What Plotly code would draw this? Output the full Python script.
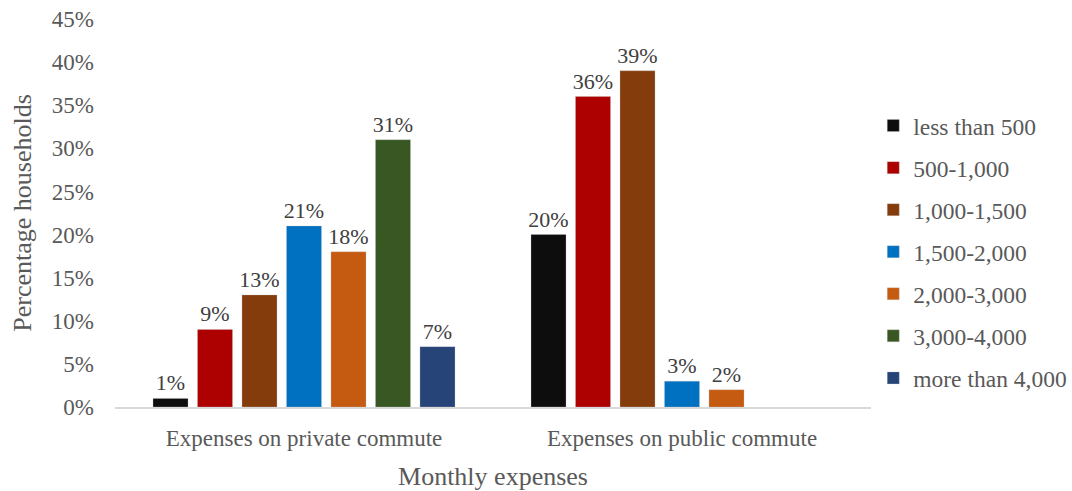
import plotly.graph_objects as go

categories = ["Expenses on private commute", "Expenses on public commute"]
series_names = ["less than 500", "500-1,000", "1,000-1,500", "1,500-2,000",
                "2,000-3,000", "3,000-4,000", "more than 4,000"]
private_vals = [1, 9, 13, 21, 18, 31, 7]
public_vals = [20, 36, 39, 3, 2, None, None]
colors = ["#0d0d0d", "#ad0000", "#843c0c", "#0070c0", "#c55a11", "#385723", "#264478"]
y_ticks = [0, 5, 10, 15, 20, 25, 30, 35, 40, 45]

FONT = "Liberation Serif, Times New Roman, serif"

fig = go.Figure()
for i, name in enumerate(series_names):
    vals = [private_vals[i], public_vals[i]]
    texts = [f"{v}%" if v is not None else "" for v in vals]
    fig.add_trace(go.Bar(
        x=categories, y=vals, name=name,
        marker=dict(color=colors[i], line=dict(color="rgba(200,200,200,0.6)", width=0.5)),
        text=texts, textposition="outside", cliponaxis=False, constraintext="none",
        textfont=dict(family=FONT, size=22, color="#404040"),
        legendgroup=f"g{i}",
    ))

fig.update_layout(
    width=1072, height=491,
    margin=dict(l=115, r=201, t=19, b=84, autoexpand=False),
    paper_bgcolor="white", plot_bgcolor="white",
    barmode="group", bargap=0.176, bargroupgap=0.213,
    font=dict(family=FONT, color="#595959"),
    showlegend=True,
    legend=dict(x=1.003, y=0.40, xanchor="left", yanchor="middle",
                font=dict(family=FONT, size=23.5, color="#595959"),
                tracegroupgap=8.5, itemwidth=30),
    uniformtext=dict(mode=False),
)
fig.update_xaxes(
    showline=True, linecolor="#d9d9d9", linewidth=1.5, automargin=False,
    tickfont=dict(family=FONT, size=23, color="#595959"),
    ticklabelstandoff=10,
    title=dict(text="Monthly expenses", font=dict(family=FONT, size=26, color="#595959"), standoff=16),
    ticks="", showgrid=False,
)
fig.update_yaxes(
    range=[0, 45], tickvals=y_ticks, ticktext=[f"{t}%" for t in y_ticks],
    showgrid=False, zeroline=False, showline=False, automargin=False,
    tickfont=dict(family=FONT, size=23, color="#595959"),
    ticklabelstandoff=20,
    title=dict(text="Percentage households", font=dict(family=FONT, size=26, color="#595959"), standoff=12),
    ticks="",
)

fig.write_html("out.html")
